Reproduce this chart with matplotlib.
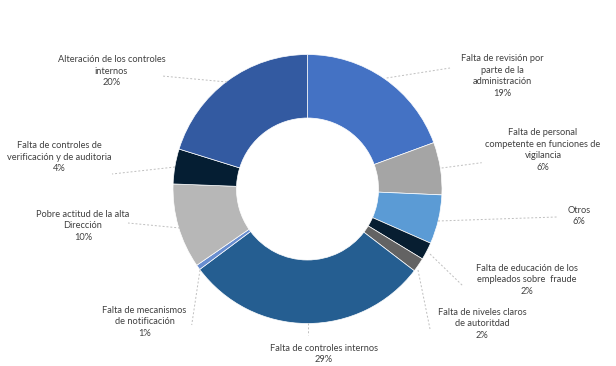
import matplotlib
matplotlib.use("Agg")
import matplotlib.pyplot as plt

categories = [
    "Falta de revisión por\nparte de la\nadministración",
    "Falta de personal\ncompetente en funciones de\nvigilancia",
    "Otros",
    "Falta de educación de los\nempleados sobre  fraude",
    "Falta de niveles claros\nde autoritdad",
    "Falta de controles internos",
    "Falta de mecanismos\nde notificación",
    "Pobre actitud de la alta\nDirección",
    "Falta de controles de\nverificación y de auditoria",
    "Alteración de los controles\ninternos",
]
values = [19.4, 6.3, 5.9, 2.1, 1.7, 29.4, 0.6, 10.2, 4.2, 20.2]
pct_labels = ["19%", "6%", "6%", "2%", "2%", "29%", "1%", "10%", "4%", "20%"]
colors = ["#4472C4", "#A5A5A5", "#5B9BD5", "#071E31", "#636363",
          "#255E91", "#698ED0", "#B7B7B7", "#051E33", "#335AA1"]

W, H = 616, 366
fig = plt.figure(figsize=(W / 100, H / 100), dpi=100)
ax = fig.add_axes([0, 0, 1, 1])

cx, cy, R = 307.5, 189, 134.5
ax.pie(values, colors=colors, center=(cx, H - cy), radius=R, startangle=90,
       counterclock=False,
       wedgeprops=dict(width=R - 71, edgecolor="white", linewidth=0.5))
ax.set_xlim(0, W)
ax.set_ylim(0, H)
ax.set_aspect("equal")
ax.axis("off")

# label centres (pixel coords, y from top) and leader lines
label_pos = [(502.5, 76), (543, 150), (579, 216), (526.7, 280), (482, 324),
             (324, 354), (144.5, 322), (83, 226), (59, 157), (111.5, 71)]
leaders = [((386.7, 78), (450, 68)), ((441.7, 168), (481.7, 162.7)),
           ((438, 221), (556.7, 217)), ((430, 254), (463, 286)),
           ((418, 270), (430, 329)), ((308, 323), (308, 335)),
           ((200, 270), (191.7, 325)), ((180, 228), (128, 223)),
           ((175, 167), (112, 174)), ((227, 82), (162, 76))]

for cat, pct, (x, y), (p0, p1) in zip(categories, pct_labels, label_pos, leaders):
    ax.text(x, H - y, cat + "\n" + pct, ha="center", va="center",
            fontsize=6.7, family="Lato", color="#404040", linespacing=1.38)
    ax.plot([p0[0], p1[0]], [H - p0[1], H - p1[1]], color="#BFBFBF",
            lw=0.7, ls=(0, (2, 2)))

fig.savefig("out.png", dpi=100, facecolor="white")
